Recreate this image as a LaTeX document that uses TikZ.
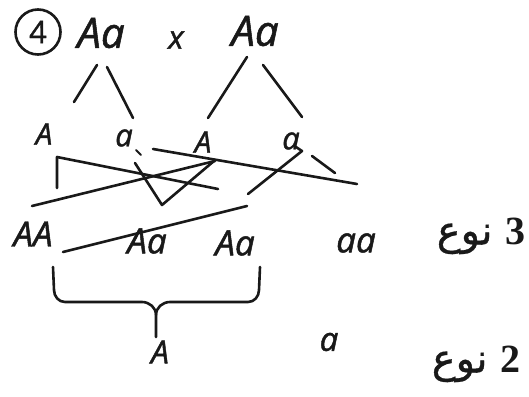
\documentclass[tikz,border=0pt]{standalone}
\usepackage{fontspec}
\newfontfamily\hand[FakeBold=1.3]{Open Sans}
\newfontfamily\arabicfont[Script=Arabic,FakeBold=0.8]{DejaVu Sans}
\newfontfamily\digitfont{Liberation Serif}
\TeXXeTstate=1
\tikzset{
  pen/.style={line width=2.6pt, line cap=round, line join=round, black!90},
  hw/.style={inner sep=0pt, text=black!90},
  sz/.style={font=\hand\itshape\fontsize{#1}{#1}\selectfont},
  ar/.style={inner sep=0pt, text=black!90, font=\arabicfont\fontsize{#1}{#1}\selectfont}
}
\begin{document}
\begin{tikzpicture}[x=1pt,y=-1pt]
\useasboundingbox[fill=white] (0,0) rectangle (529,396);
% title row
\node[circle, draw, pen, minimum size=45pt, inner sep=0pt, hw, font=\hand\fontsize{31}{31}\selectfont] (four) at (38,32) {4};
\node[hw, sz=42] (p1) at (101,33) {Aa};
\node[hw, sz=32] (cross) at (176,40) {x};
\node[hw, sz=42] (p2) at (255,31) {Aa};
% gametes
\node[hw, sz=30] (g1) at (44,134) {A};
\node[hw, sz=31] (g2) at (124,138) {a};
\node[hw, sz=30] (g3) at (203,142) {A};
\node[hw, sz=31] (g4) at (291,141) {a};
% genotypes
\node[hw, sz=35] (o1) at (33,234) {AA};
\node[hw, sz=35] (o2) at (147,241) {Aa};
\node[hw, sz=35] (o3) at (235,243) {Aa};
\node[hw, sz=35] (o4) at (356,243) {aa};
\node[ar=40] (n3) at (481,236) {\beginR{\digitfont\bfseries 3} نوع\endR};
% phenotypes
\node[hw, sz=32] (f1) at (160,352) {A};
\node[hw, sz=33] (f2) at (329,342) {a};
\node[ar=40] (n2) at (476,364) {\beginR{\digitfont\bfseries 2} نوع\endR};
% tree lines
\coordinate (l1a) at (97,65);  \coordinate (l1b) at (74,102);
\coordinate (l2a) at (107,67); \coordinate (l2b) at (133,118);
\coordinate (l3a) at (247,57); \coordinate (l3b) at (208,118);
\coordinate (l4a) at (263,65); \coordinate (l4b) at (302,117);
\draw[pen] (l1a) -- (l1b);
\draw[pen] (l2a) -- (l2b);
\draw[pen] (l3a) -- (l3b);
\draw[pen] (l4a) -- (l4b);
% crossing strokes
\coordinate (c1) at (57,188); \coordinate (c2) at (57,157); \coordinate (c3) at (218,189);
\draw[pen] (c1) -- (c2) -- (c3);
\coordinate (d1) at (32,206); \coordinate (d2) at (215,161);
\draw[pen] (d1) -- (d2);
\coordinate (v1) at (135,163); \coordinate (v2) at (162,205); \coordinate (v3) at (214,161);
\draw[pen] (v1) -- (v2) -- (v3);
\coordinate (e1) at (153,149); \coordinate (e2) at (357,184);
\draw[pen] (e1) -- (e2);
\coordinate (h0) at (296,147); \coordinate (h1) at (248,194); \coordinate (h2) at (302,151);
\draw[pen] (h1) -- (h2) -- (h0);
\coordinate (t1) at (312,156); \coordinate (t2) at (335,173);
\draw[pen] (t1) -- (t2);
\coordinate (k1) at (136,150); \coordinate (k2) at (141,155);
\draw[pen, line width=1.8pt] (k1) -- (k2);
\coordinate (m1) at (63,252); \coordinate (m2) at (247,206);
\draw[pen] (m1) -- (m2);
% brace
\coordinate (bl) at (53,267); \coordinate (br) at (260,267);
\coordinate (bm) at (156,315); \coordinate (bs) at (156,337);
\draw[pen] (bl) -- (54,290) to[out=-90,in=180] (65,302) -- (142,302) to[out=0,in=90] (bm) -- (bs);
\draw[pen] (bm) to[out=90,in=180] (170,302) -- (248,302) to[out=0,in=-90] (259,290) -- (br);
\end{tikzpicture}
\end{document}
